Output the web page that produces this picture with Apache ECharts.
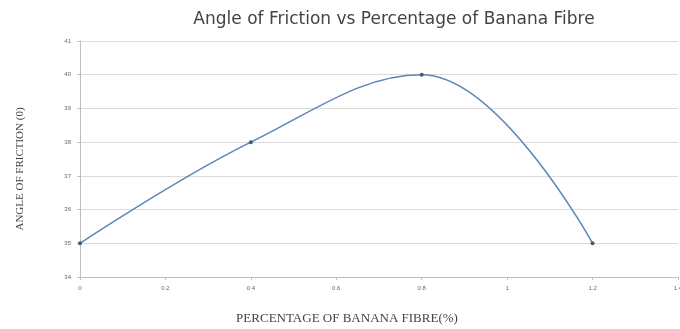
<!DOCTYPE html>
<html>
<head>
<meta charset="utf-8">
<script src="https://cdn.jsdelivr.net/npm/echarts@6/dist/echarts.min.js"></script>
<style>
html, body { margin: 0; padding: 0; background: #fff; }
#chart { width: 680px; height: 329px; }
</style>
</head>
<body>
<div id="chart"></div>
<script>
// fibre percentage and measured angle of friction
let fibre = [0, 0.4, 0.8, 1.2];
let angle = [35, 38, 40, 35];

let myChart = echarts.init(document.getElementById("chart"));

let data = [];
for (let i = 0; i < fibre.length; i++)
{
    data.push([fibre[i], angle[i]]);
}

let option = {
    animation: false,
    title: {
        text: 'Angle of Friction vs Percentage of Banana Fibre',
        left: 389,
        textAlign: 'center',
        top: 6,
        textStyle: {
            fontFamily: 'DejaVu Sans',
            fontSize: 17,
            fontWeight: 'normal',
            color: '#444'
        }
    },
    grid: {
        left: 80,
        right: 2,
        top: 41,
        bottom: 52,
        outerBoundsMode: 'none'
    },
    xAxis: {
        type: 'value',
        min: 0,
        max: 1.4,
        interval: 0.2,
        name: 'PERCENTAGE OF BANANA FIBRE(%)',
        nameLocation: 'middle',
        nameGap: 35,
        nameTextStyle: {
            fontFamily: 'Liberation Serif',
            fontSize: 13,
            color: '#444',
            padding: [0, 64, 0, 0]
        },
        axisLine: { lineStyle: { color: '#bfbfbf' } },
        axisTick: { show: true, length: 3, lineStyle: { color: '#bfbfbf' } },
        axisLabel: { fontSize: 6, color: '#666', margin: 8 },
        splitLine: { show: false }
    },
    yAxis: {
        type: 'value',
        min: 34,
        max: 41,
        interval: 1,
        name: 'ANGLE OF FRICTION (0)',
        nameLocation: 'middle',
        nameGap: 54,
        nameTextStyle: {
            fontFamily: 'Liberation Serif',
            fontSize: 11,
            color: '#444',
            padding: [0, 20, 0, 0]
        },
        axisLine: { show: true, lineStyle: { color: '#bfbfbf' } },
        axisTick: { show: true, length: 3, lineStyle: { color: '#bfbfbf' } },
        axisLabel: { fontSize: 6, color: '#666', margin: 9 },
        splitLine: { lineStyle: { color: '#dcdcdc', width: 1 } }
    },
    series: [{
        type: 'line',
        data: data,
        smooth: 0.4,
        symbol: 'circle',
        symbolSize: 4,
        lineStyle: { color: '#5b84b8', width: 1.5 },
        itemStyle: { color: '#4a5a70' }
    }]
};
myChart.setOption(option);
</script>
</body>
</html>
